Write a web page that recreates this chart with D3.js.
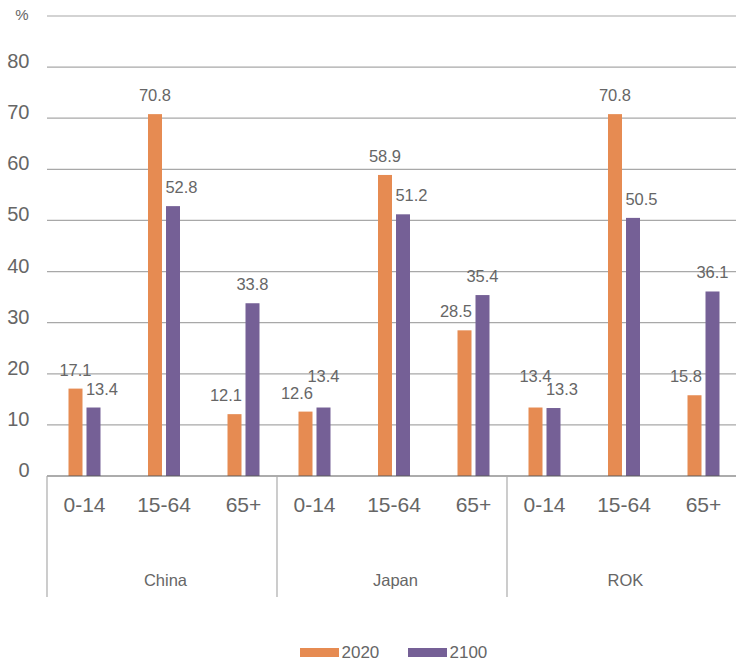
<!DOCTYPE html>
<html>
<head>
<meta charset="utf-8">
<script src="https://cdn.jsdelivr.net/npm/d3@7"></script>
<style>
  html, body { margin: 0; padding: 0; background: #fff; }
  svg { display: block; font-family: "Liberation Sans", Arial, Helvetica, sans-serif; }
</style>
</head>
<body>
<svg id="chart" width="736" height="664"></svg>
<script>
// ---- data ----
const countries = ["China", "Japan", "ROK"];
const ageGroups = ["0-14", "15-64", "65+"];
const seriesNames = ["2020", "2100"];
const values2020 = [17.1, 70.8, 12.1, 12.6, 58.9, 28.5, 13.4, 70.8, 15.8];
const values2100 = [13.4, 52.8, 33.8, 13.4, 51.2, 35.4, 13.3, 50.5, 36.1];
const yTicks = [0, 10, 20, 30, 40, 50, 60, 70, 80];
const yUnit = "%";

// ---- styles ----
const colors = { "2020": "#E68B52", "2100": "#756096" };
const textColor = "#666666";

const svg = d3.select("#chart");

const y = d3.scaleLinear().domain([0, 90]).range([476, 16]);
const xGroup = d3.scaleBand().domain(countries).range([47, 737]);
const xAge = d3.scalePoint().domain(ageGroups).range([37.5, 196.5]);
const xSeries = d3.scaleBand().domain(seriesNames).range([-16, 16]).paddingInner(2 - 32 / 18);

const rows = [];
countries.forEach((c, ci) => {
  ageGroups.forEach((a, ai) => {
    const i = ci * ageGroups.length + ai;
    rows.push({ country: c, age: a, v: { "2020": values2020[i], "2100": values2100[i] } });
  });
});
const cx = d => xGroup(d.country) + xAge(d.age);

// gridlines (including top line at 90)
const gridVals = yTicks.slice(1).concat([90]);
svg.append("g").selectAll("line").data(gridVals).join("line")
  .attr("x1", 47).attr("x2", 736)
  .attr("y1", d => y(d)).attr("y2", d => y(d))
  .attr("stroke", "#a8a8a8").attr("stroke-width", 1.2);

// y tick labels
svg.append("g").selectAll("text").data(yTicks).join("text")
  .attr("x", 29.5).attr("y", d => y(d) + 1)
  .attr("text-anchor", "end")
  .attr("font-size", 20).attr("fill", textColor)
  .text(d => d);
svg.append("text").attr("x", 28.5).attr("y", 20).attr("text-anchor", "end")
  .attr("font-size", 15).attr("fill", textColor).text(yUnit);

// bars
const barData = [];
rows.forEach(r => seriesNames.forEach(s => barData.push({ r, s, v: r.v[s] })));
svg.append("g").selectAll("rect").data(barData).join("rect")
  .attr("x", d => cx(d.r) + xSeries(d.s))
  .attr("width", xSeries.bandwidth())
  .attr("y", d => y(d.v))
  .attr("height", d => y(0) - y(d.v))
  .attr("fill", d => colors[d.s]);

// baseline
svg.append("line").attr("x1", 47).attr("x2", 736).attr("y1", y(0)).attr("y2", y(0))
  .attr("stroke", "#5a5a5a").attr("stroke-width", 1.2);

// value labels: shorter bar's label nudged outward; when nearly equal, taller one lifted
svg.append("g").selectAll("text").data(barData).join("text")
  .attr("x", d => {
    const other = d.r.v[d.s === "2020" ? "2100" : "2020"];
    const center = cx(d.r) + xSeries(d.s) + xSeries.bandwidth() / 2;
    const dir = d.s === "2020" ? -1 : 1;
    return d.v < other ? center + dir * 8.5 : center;
  })
  .attr("y", d => {
    const other = d.r.v[d.s === "2020" ? "2100" : "2020"];
    const lift = (d.v >= other && Math.abs(d.v - other) < 2.5) ? 13 : 0;
    return y(d.v) - 13 - lift;
  })
  .attr("text-anchor", "middle")
  .attr("font-size", 16.5).attr("fill", textColor)
  .text(d => d.v.toFixed(1));

// x axis: separators
svg.append("g").selectAll("line").data(countries).join("line")
  .attr("x1", d => xGroup(d)).attr("x2", d => xGroup(d))
  .attr("y1", y(0)).attr("y2", 597)
  .attr("stroke", "#ababab").attr("stroke-width", 1.2);

// age labels
svg.append("g").selectAll("text").data(rows).join("text")
  .attr("x", d => cx(d)).attr("y", 512)
  .attr("text-anchor", "middle").attr("font-size", 21).attr("fill", textColor)
  .text(d => d.age);

// country labels
svg.append("g").selectAll("text").data(countries).join("text")
  .attr("x", d => xGroup(d) + xAge(ageGroups[1]) + 1.5).attr("y", 586)
  .attr("text-anchor", "middle").attr("font-size", 16.5).attr("fill", textColor)
  .text(d => d);

// legend
const legendX = { "2020": 300, "2100": 408 };
const lg = svg.append("g").selectAll("g").data(seriesNames).join("g")
  .attr("transform", d => `translate(${legendX[d]},0)`);
lg.append("rect").attr("x", 0).attr("y", 648).attr("width", 39).attr("height", 9)
  .attr("fill", d => colors[d]);
lg.append("text").attr("x", 41.5).attr("y", 657.5).attr("font-size", 17)
  .attr("fill", textColor).text(d => d);
</script>
</body>
</html>
